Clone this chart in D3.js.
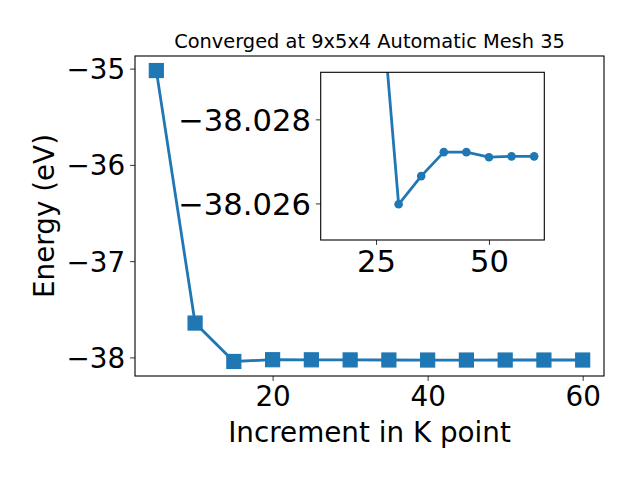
<!DOCTYPE html>
<html><head><meta charset="utf-8">
<script src="https://cdn.jsdelivr.net/npm/d3@7"></script>
<style>body{margin:0;background:#fff}svg{display:block}text{font-family:"DejaVu Sans",sans-serif;fill:#000}</style>
</head><body><svg id="c" width="640" height="480"></svg>
<script>
const kPoints = [5,10,15,20,25,30,35,40,45,50,55,60];
const energy = [-35.02,-37.643,-38.042,-38.024,-38.025,-38.026,-38.0267,-38.0272,-38.0272,-38.0271,-38.0271,-38.0271];
const insetK = [25,30,35,40,45,50,55,60];
const insetEnergy = [-38.0324,-38.02598,-38.02665,-38.02722,-38.02722,-38.0271,-38.02712,-38.02712];
const xTicks = [20,40,60];
const yTicks = [-35,-36,-37,-38];
const insetXTicks = [25,50];
const insetYTicks = [-38.028,-38.026];
const insetXDomain = [12.75,62.25];
const insetYDomain = [-38.02912,-38.02513];
const title = "Converged at 9x5x4 Automatic Mesh 35";
const xLabel = "Increment in K point";
const yLabel = "Energy (eV)";
const color = "#1f77b4";

const svg = d3.select("#c");
const L=135,R=604,T=56,B=376;
function pad(ext){const d=(ext[1]-ext[0])*0.05;return [ext[0]-d,ext[1]+d];}
const x = d3.scaleLinear().domain(pad(d3.extent(kPoints))).range([L,R]);
const y = d3.scaleLinear().domain(pad(d3.extent(energy))).range([B,T]);
const fmt = d3.format("");

function styleAxis(g,fs){
  g.select(".domain").remove();
  g.selectAll(".tick line").attr("stroke","#000").attr("stroke-width",0.8);
  g.selectAll(".tick text").style("font-size",fs+"px").attr("fill","#000");
}
const gx = svg.append("g").attr("transform",`translate(0,${B})`)
  .call(d3.axisBottom(x).tickValues(xTicks).tickSize(4.9).tickPadding(4.9).tickFormat(fmt));
styleAxis(gx,27.8);
const gy = svg.append("g").attr("transform",`translate(${L},0)`)
  .call(d3.axisLeft(y).tickValues(yTicks).tickSize(4.9).tickPadding(4.9).tickFormat(d3.format("d")));
styleAxis(gy,27.8);
gy.selectAll(".tick text").attr("dy","0.36em");

const line = d3.line().x((d,i)=>x(kPoints[i])).y(d=>y(d));
svg.append("path").datum(energy).attr("d",line).attr("fill","none").attr("stroke",color).attr("stroke-width",2.8);
svg.selectAll("rect.m").data(energy).enter().append("rect").attr("class","m")
  .attr("x",(d,i)=>x(kPoints[i])-7).attr("y",d=>y(d)-7).attr("width",14).attr("height",14)
  .attr("fill",color).attr("stroke",color).attr("stroke-width",1.2);
svg.append("rect").attr("x",L).attr("y",T).attr("width",R-L).attr("height",B-T)
  .attr("fill","none").attr("stroke","#000").attr("stroke-width",1.1);

svg.append("text").attr("x",(L+R)/2).attr("y",T-8).attr("text-anchor","middle").style("font-size","19.4px").text(title);
svg.append("text").attr("x",(L+R)/2).attr("y",442).attr("text-anchor","middle").style("font-size","27.8px").text(xLabel);
svg.append("text").attr("transform",`translate(54,${(T+B)/2}) rotate(-90)`).attr("text-anchor","middle").style("font-size","27.8px").text(yLabel);

// inset
const iL=320.7,iR=544.3,iT=72.3,iB=240;
const ix = d3.scaleLinear().domain(insetXDomain).range([iL,iR]);
const iy = d3.scaleLinear().domain(insetYDomain).range([iT,iB]);
svg.append("rect").attr("x",iL).attr("y",iT).attr("width",iR-iL).attr("height",iB-iT).attr("fill","#fff");
svg.append("clipPath").attr("id","ic").append("rect").attr("x",iL).attr("y",iT).attr("width",iR-iL).attr("height",iB-iT);
const gi = svg.append("g").attr("clip-path","url(#ic)");
const iline = d3.line().x((d,i)=>ix(insetK[i])).y(d=>iy(d));
gi.append("path").datum(insetEnergy).attr("d",iline).attr("fill","none").attr("stroke",color).attr("stroke-width",2.8);
gi.selectAll("circle").data(insetEnergy).enter().append("circle")
  .attr("cx",(d,i)=>ix(insetK[i])).attr("cy",d=>iy(d)).attr("r",4.3).attr("fill",color);
const gix = svg.append("g").attr("transform",`translate(0,${iB})`)
  .call(d3.axisBottom(ix).tickValues(insetXTicks).tickSize(4.9).tickPadding(4.9).tickFormat(fmt));
styleAxis(gix,30.6);
const giy = svg.append("g").attr("transform",`translate(${iL},0)`)
  .call(d3.axisLeft(iy).tickValues(insetYTicks).tickSize(4.9).tickPadding(4.9).tickFormat(d3.format(".3f")));
styleAxis(giy,30.6);
giy.selectAll(".tick text").attr("dy","0.36em");
svg.append("rect").attr("x",iL).attr("y",iT).attr("width",iR-iL).attr("height",iB-iT)
  .attr("fill","none").attr("stroke","#000").attr("stroke-width",1.1);
</script></body></html>
